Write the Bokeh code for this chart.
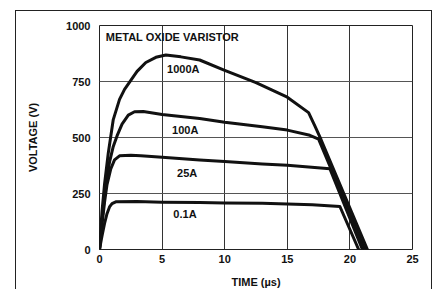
from bokeh.plotting import figure
from bokeh.models import Range1d, FixedTicker, ColumnDataSource
from bokeh.core.properties import value
from bokeh.embed import file_html
from bokeh.resources import INLINE

# ---- data ----
t_01 = [0, 0.2, 0.4, 0.6, 0.8, 1.0, 1.3, 3.0, 5.0, 8.0, 10.0, 13.0, 15.0, 17.0, 19.2, 20.7]
v_01 = [0, 60, 115, 160, 190, 205, 213, 214, 211, 210, 208, 206, 203, 200, 192, 0]

t_25 = [0, 0.2, 0.4, 0.6, 0.9, 1.2, 1.6, 2.5, 3.3, 5.0, 8.0, 10.0, 13.0, 15.0, 18.4, 21.0]
v_25 = [0, 110, 210, 290, 360, 400, 418, 421, 418, 412, 400, 393, 382, 376, 361, 0]

t_100 = [0, 0.2, 0.5, 0.8, 1.1, 1.4, 1.8, 2.3, 2.8, 3.5, 5.0, 8.0, 10.0, 13.0, 15.0, 16.8, 17.5, 21.2]
v_100 = [0, 130, 290, 390, 460, 507, 560, 600, 615, 616, 603, 585, 568, 548, 533, 510, 493, 0]

t_1000 = [0, 0.2, 0.4, 0.7, 1.1, 1.6, 2.0, 2.5, 3.0, 3.7, 4.5, 5.3, 6.5, 8.0, 10.0, 12.5, 15.0, 16.7, 17.2, 17.7, 21.4]
v_1000 = [0, 170, 290, 430, 580, 670, 715, 755, 795, 835, 858, 868, 860, 846, 800, 745, 680, 611, 552, 490, 0]

label_text = ["METAL OXIDE VARISTOR", "1000A", "100A", "25A", "0.1A"]
label_t = [0.5, 5.4, 5.8, 6.2, 5.9]
label_v = [947, 805, 534, 342, 160]

x_ticks = [0, 5, 10, 15, 20, 25]
y_ticks = [0, 250, 500, 750, 1000]

FONT = "Liberation Sans"
INK = "#111111"

p = figure(width=415, height=278, output_backend="svg", toolbar_location=None,
           x_range=Range1d(0, 25), y_range=Range1d(0, 1000),
           min_border_left=83, min_border_right=21, min_border_top=14, min_border_bottom=37)
p.margin = (10, 0, 0, 15)
p.styles = {"box-sizing": "content-box",
            "border-left": "1px solid #222", "border-right": "1px solid #222",
            "border-top": "1px solid #222"}

p.background_fill_color = "white"
p.border_fill_color = "white"
p.outline_line_color = "#222222"
p.outline_line_width = 1

for ax in (p.xaxis, p.yaxis):
    ax.axis_line_color = None
    ax.major_tick_line_color = None
    ax.minor_tick_line_color = None
    ax.major_tick_out = 0
    ax.major_tick_in = 0
    ax.major_label_text_font = FONT
    ax.major_label_text_font_style = "bold"
    ax.major_label_text_font_size = "11px"
    ax.major_label_text_color = INK
    ax.axis_label_text_font = FONT
    ax.axis_label_text_font_style = "bold"
    ax.axis_label_text_font_size = "11px"
    ax.axis_label_text_color = INK

p.xaxis.ticker = FixedTicker(ticks=x_ticks)
p.yaxis.ticker = FixedTicker(ticks=y_ticks)
p.xaxis.major_label_standoff = 5
p.yaxis.major_label_standoff = 9
p.xaxis.axis_label = "TIME (µs)"
p.yaxis.axis_label = "VOLTAGE (V)"
p.xaxis.axis_label_standoff = 10
p.yaxis.axis_label_standoff = 24

p.xgrid.ticker = FixedTicker(ticks=[5, 10, 15, 20])
p.ygrid.ticker = FixedTicker(ticks=[250, 500, 750])
p.xgrid.grid_line_color = "#333333"
p.ygrid.grid_line_color = "#555555"
p.xgrid.grid_line_width = 1
p.ygrid.grid_line_width = 1

for t, v in ((t_01, v_01), (t_25, v_25), (t_100, v_100), (t_1000, v_1000)):
    p.line(t, v, line_color=INK, line_width=3, line_join="round", line_cap="round")

src = ColumnDataSource(dict(x=label_t, y=label_v, text=label_text))
p.text(x="x", y="y", text="text", source=src, text_font=value(FONT),
       text_font_style="bold", text_font_size="11px", text_color=INK,
       text_align="left", text_baseline="middle")

open("out.html", "w").write(file_html(p, INLINE))
